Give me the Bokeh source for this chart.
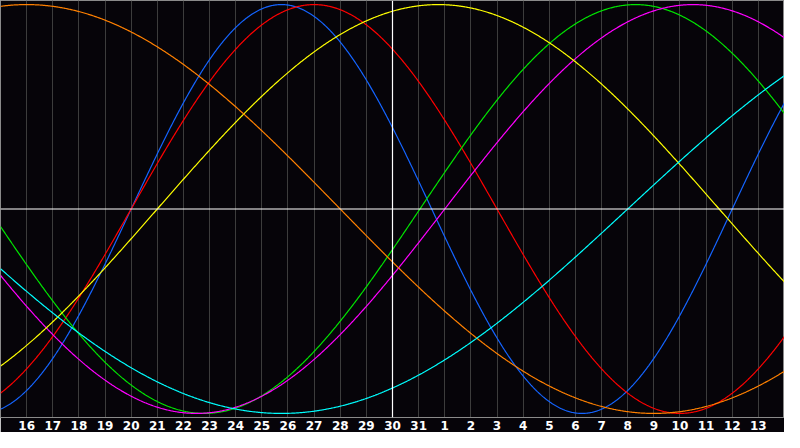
import numpy as np
from bokeh.plotting import figure
from bokeh.models import Range1d, FixedTicker, Span, ColumnDataSource
from bokeh.embed import file_html
from bokeh.resources import INLINE

# Day ticks (day index: 30 = today, 32.. = next month)
tick_days = list(range(16, 45))
tick_labels = [str(d) for d in range(16, 32)] + [str(d) for d in range(1, 14)]

# Cycles: name, period (days), day of peak, colour
cycle_names = ["physical", "emotional", "intellectual", "intuitive",
               "aesthetic", "awareness", "spiritual"]
cycle_periods = [23, 28, 33, 38, 43, 48, 53]
cycle_peaks = [25.75, 27.0, 39.3, 41.5, 31.75, 16.0, 52.25]
cycle_colors = ["#1464ff", "#ff0000", "#00e600", "#ff00ff",
                "#ffff00", "#ff8000", "#00ffff"]

today = 30
x_start, x_end = 15, 45

p = figure(width=784, height=432, output_backend="svg", toolbar_location=None,
           x_range=Range1d(x_start, x_end), y_range=Range1d(-1.02, 1.02),
           min_border_left=0, min_border_right=0, min_border_top=0, min_border_bottom=0)
p.background_fill_color = "#060409"
p.border_fill_color = "#060409"
p.outline_line_color = "#8a8a8a"
p.outline_line_width = 1

p.yaxis.visible = False
p.ygrid.visible = False

p.xaxis.ticker = FixedTicker(ticks=tick_days)
p.xaxis.major_label_overrides = {d: lab for d, lab in zip(tick_days, tick_labels)}
p.xaxis.major_tick_out = 0
p.xaxis.major_tick_in = 0
p.xaxis.minor_tick_out = 0
p.xaxis.minor_tick_in = 0
p.xaxis.axis_line_color = "#8a8a8a"
p.xaxis.major_label_text_color = "#ffffff"
p.xaxis.major_label_text_font = "DejaVu Sans"
p.xaxis.major_label_text_font_style = "bold"
p.xaxis.major_label_text_font_size = "12px"
p.xaxis.major_label_standoff = 3

p.xgrid.ticker = FixedTicker(ticks=tick_days)
p.xgrid.grid_line_color = "#3c3c3c"
p.xgrid.grid_line_width = 1

p.add_layout(Span(location=0, dimension="width", line_color="#ffffff", line_width=1.2))
p.add_layout(Span(location=today, dimension="height", line_color="#ffffff", line_width=1.2))

t = np.linspace(x_start, x_end, 901)
for name, per, pk, col in zip(cycle_names, cycle_periods, cycle_peaks, cycle_colors):
    v = np.cos(2 * np.pi * (t - pk) / per)
    src = ColumnDataSource(dict(x=t, y=v))
    p.line("x", "y", source=src, line_color=col, line_width=1.2)

open("out.html", "w").write(file_html(p, INLINE))
